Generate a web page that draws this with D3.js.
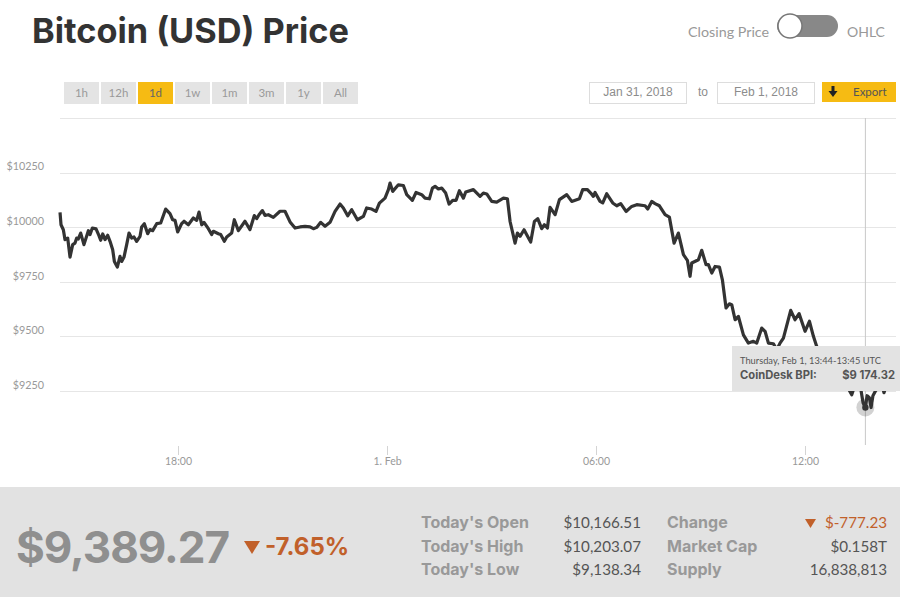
<!DOCTYPE html>
<html><head><meta charset="utf-8">
<script src="https://cdn.jsdelivr.net/npm/d3@7"></script>
<style>html,body{margin:0;padding:0;background:#fff}svg{display:block}text{font-family:Lato,"Open Sans",sans-serif}</style>
</head><body><svg id="c" width="900" height="597"></svg>
<script>
// minutes since Jan 31 2018 00:00 UTC
const minutes=[876.8,878.5,882.5,885.4,890,894,898.6,902.6,905.5,908.3,912.4,918,925.6,928.4,932.5,938.8,943.9,946.8,950.3,954.3,958.9,962.9,967.5,970.4,975.5,980.1,983,987,991.6,995.6,1000.2,1004.2,1008.8,1014.6,1017.4,1022,1027.8,1031.8,1036.4,1043.3,1050.2,1058.8,1066.2,1070.8,1074.9,1079.4,1086.3,1090.4,1097.8,1106.4,1112.2,1116.2,1120.8,1124.8,1132.3,1138,1140.9,1149.5,1153.5,1159.8,1163.9,1172.5,1177,1184,1195.4,1204,1211.5,1215.5,1219.6,1225.3,1229.9,1235.6,1244.2,1255.7,1264.3,1273,1281.6,1290.2,
1298.8,1307.4,1313.2,1318.9,1325.8,1333.3,1341.9,1350.5,1359.1,1364.8,1372.3,1379.2,1389,1399.3,1405,1413.7,1421.1,1426.9,1436.6,1442.4,1445.2,1449.8,1459.6,1468.2,1474,1483.7,1490,1499.8,1505.5,1513,1518.2,1522.8,1528.5,1534.2,1541.1,1546.9,1553.2,1559,1564.7,1571.6,1575.6,1588.8,1600.3,1606,1611.8,1620.4,1629,1640.5,1647.4,1652,1660.6,1664.6,1669.2,1676.1,1680.7,1687.5,1693.9,1699.6,1706.5,1711.1,1716.3,1720.9,1729.5,1737,1749.6,1758.2,1771.4,1777.1,1785.2,1790.9,1795.5,1798.4,1807,
1811.6,1818.5,1828.8,1835.7,1842.6,1851.8,1861.5,1870.2,1884.5,1889.1,1896,1901.7,1909.2,1919,1926.4,1934.5,1941.9,1950.6,1957.4,1962,1964.9,1976.4,1982.1,1989.6,1993.6,1999.4,2005.1,2012.6,2017.7,2024,2029.8,2033.8,2039.6,2045.3,2053.9,2062.5,2071.1,2076.9,2085.5,2091.2,2097,2105.6,2111.3,2117,2122.8,2135.4,2142.9,2149.8,2160.1,2167.6,2174.5,2180.2,2191.7,2208.9,2226.2,2240.5,2249.1,2256.6,2260,2264,2267,2270.9,2273.8,2277,2281.6,2292.8,2296,2301];
const prices=[10068,10011,9988,9943,9950,9863,9920,9927,9950,9946,9973,9920,9984,9966,9996,9992,9961,9940,9969,9943,9963,9935,9897,9843,9817,9866,9843,9863,9920,9973,9950,9955,9935,9958,10001,10016,9970,9989,9984,10016,10019,10083,10062,10034,10031,9978,10016,10027,10011,10042,10031,10069,10011,10022,9993,9966,9981,9970,9966,9935,9955,9973,10034,9984,10027,9989,10053,10039,10057,10076,10054,10057,10045,10073,10073,10024,9996,10001,
10004,10001,9993,9999,10022,10004,10022,10072,10106,10088,10052,10080,10034,10049,10088,10083,10072,10110,10133,10172,10202,10164,10194,10191,10149,10123,10159,10149,10133,10130,10179,10187,10175,10179,10156,10106,10123,10123,10167,10133,10161,10172,10141,10156,10152,10118,10115,10133,10130,10026,9927,9973,9958,9988,9965,9932,10026,10039,9993,10011,9996,10091,10057,10126,10149,10118,10130,10172,10172,10156,10141,10159,10118,
10111,10153,10111,10098,10108,10072,10095,10103,10098,10083,10118,10108,10098,10057,10046,9927,9973,9874,9848,9775,9836,9851,9894,9828,9828,9790,9820,9817,9759,9630,9649,9645,9576,9591,9507,9469,9477,9469,9538,9523,9469,9466,9439,9469,9492,9619,9576,9604,9523,9569,9500,9454,9378,9324,9301,9232,9301,9251,9196,9174.32,9228,9219,9174,9228,9251,9279,9242,9283];
const yTicks=[10250,10000,9750,9500,9250];
const gridTop=10500;
const xTicks=[1080,1440,1800,2160];
const xLabels=["18:00","1. Feb","06:00","12:00"];
const ranges=["1h","12h","1d","1w","1m","3m","1y","All"];
const activeRange="1d";
const hoverMinute=2264, hoverPrice=9174.32;
const statLabelsA=["Today's Open","Today's High","Today's Low"];
const statValuesA=["$10,166.51","$10,203.07","$9,138.34"];
const statLabelsB=["Change","Market Cap","Supply"];
const statValuesB=["$-777.23","$0.158T","16,838,813"];

const svg=d3.select("#c");
const x=d3.scaleLinear().domain([1080,2160]).range([178,805]);
const y=d3.scaleLinear().domain([9000,10500]).range([445.5,118]);
const txt=(xp,yp,s,o={})=>svg.append("text").attr("x",xp).attr("y",yp).text(s)
  .attr("font-size",o.size||12).attr("font-weight",o.weight||400).attr("fill",o.fill||"#999").attr("text-anchor",o.anchor||"start")
  .style("font-family",o.font||"Lato");

// header
txt(32,43,"Bitcoin (USD) Price",{size:34.3,weight:700,fill:"#333",font:"Inter"});
txt(688,37,"Closing Price",{size:14.3,fill:"#999"});
txt(847,37,"OHLC",{size:14,fill:"#999"});
svg.append("rect").attr("x",777).attr("y",15).attr("width",61).attr("height",22).attr("rx",11).attr("fill","#888");
svg.append("circle").attr("cx",790).attr("cy",26).attr("r",12).attr("fill","#fff").attr("stroke","#777").attr("stroke-width",1.5);

// range buttons
const bx=d3.scaleBand().domain(ranges).range([64,358.15]).paddingInner(0.05).paddingOuter(0);
ranges.forEach(r=>{
  const on=r===activeRange;
  svg.append("rect").attr("x",bx(r)).attr("y",82).attr("width",35).attr("height",22).attr("fill",on?"#f6bb13":"#e4e4e4");
  txt(bx(r)+17.5,96.5,r,{size:11.5,anchor:"middle",fill:on?"#666":"#9a9a9a"});
});
// date inputs
[[589.5,"Jan 31, 2018"],[717.5,"Feb 1, 2018"]].forEach(([px,s])=>{
  svg.append("rect").attr("x",px).attr("y",82.5).attr("width",97).attr("height",21).attr("fill","#fff").attr("stroke","#ddd");
  txt(px+48.5,96,s,{size:12,anchor:"middle",fill:"#8c8c8c",font:"Liberation Sans"});
});
txt(703,96,"to",{size:12,anchor:"middle",fill:"#8c8c8c",font:"Liberation Sans"});
svg.append("rect").attr("x",822).attr("y",82).attr("width",74).attr("height",20).attr("fill","#f6bb13");
svg.append("path").attr("d","M831.5 86h3v5h3l-4.5 6-4.5-6h3z").attr("fill","#222");
txt(853,95.5,"Export",{size:11.5,fill:"#555"});

// grid + y axis
const yAxis=d3.axisLeft(y).tickValues(yTicks).tickSize(0).tickPadding(16).tickFormat(d=>"$"+d);
const gy=svg.append("g").attr("transform","translate(60,0)").call(yAxis);
gy.select(".domain").remove();
gy.selectAll("text").attr("font-size",10.8).attr("fill","#999").style("font-family","Lato").attr("dy","-.25em");
[gridTop,...yTicks].forEach(v=>svg.append("line").attr("x1",60).attr("x2",896).attr("y1",Math.round(y(v))+.5).attr("y2",Math.round(y(v))+.5).attr("stroke","#e6e6e6"));

// x axis
const xAxis=d3.axisBottom(x).tickValues(xTicks).tickSize(9).tickPadding(3).tickFormat((d,i)=>xLabels[i]);
const gx=svg.append("g").attr("transform","translate(0,446)").call(xAxis);
gx.select(".domain").remove();
gx.selectAll("line").attr("stroke","#d4d4d4");
gx.selectAll("text").attr("font-size",10.5).attr("fill","#999").style("font-family","Lato");

// crosshair
svg.append("line").attr("x1",x(hoverMinute)).attr("x2",x(hoverMinute)).attr("y1",118).attr("y2",445).attr("stroke","#c8c8c8");

// price line
const line=d3.line().x((d,i)=>x(minutes[i])).y(d=>y(d)).curve(d3.curveLinear);
svg.append("path").datum(prices).attr("d",line).attr("fill","none").attr("stroke","#333").attr("stroke-width",3.2).attr("stroke-linejoin","round");

// hover marker
svg.append("circle").attr("cx",x(hoverMinute)).attr("cy",y(hoverPrice)).attr("r",9).attr("fill","#333").attr("fill-opacity",.22);
svg.append("circle").attr("cx",x(hoverMinute)).attr("cy",y(hoverPrice)).attr("r",3.2).attr("fill","#333");

// tooltip
svg.append("rect").attr("x",732).attr("y",346).attr("width",168).attr("height",45).attr("fill","#e3e3e3");
txt(740,364,"Thursday, Feb 1, 13:44-13:45 UTC",{size:9.3,fill:"#555"});
txt(740,379,"CoinDesk BPI:",{size:11.2,weight:700,fill:"#555",font:"Inter"});
txt(895,379,"$9 174.32",{size:11.2,weight:700,anchor:"end",fill:"#555",font:"Inter"});

// footer
svg.append("rect").attr("x",0).attr("y",487).attr("width",900).attr("height",110).attr("fill","#e2e2e2");
txt(16,563,"$9,389.27",{size:44,weight:700,fill:"#8f8f8f",font:"Inter"}).attr("letter-spacing",-1);
svg.append("path").attr("d","M244 541h16l-8 13z").attr("fill","#c1602a");
txt(265,555,"-7.65%",{size:24,weight:700,fill:"#c1602a",font:"Inter"});
const rowY=[528,552,575];
statLabelsA.forEach((s,i)=>{
  txt(421,rowY[i],s,{size:16,weight:700,fill:"#999",font:"Inter"});
  txt(641,rowY[i],statValuesA[i],{size:15.2,anchor:"end",fill:"#555"});
  txt(667,rowY[i],statLabelsB[i],{size:16,weight:700,fill:"#999",font:"Inter"});
  txt(887,rowY[i],statValuesB[i],{size:15.2,anchor:"end",fill:i===0?"#c1602a":"#555"});
});
svg.append("path").attr("d","M805 519h11l-5.5 9z").attr("fill","#c1602a");
</script></body></html>
